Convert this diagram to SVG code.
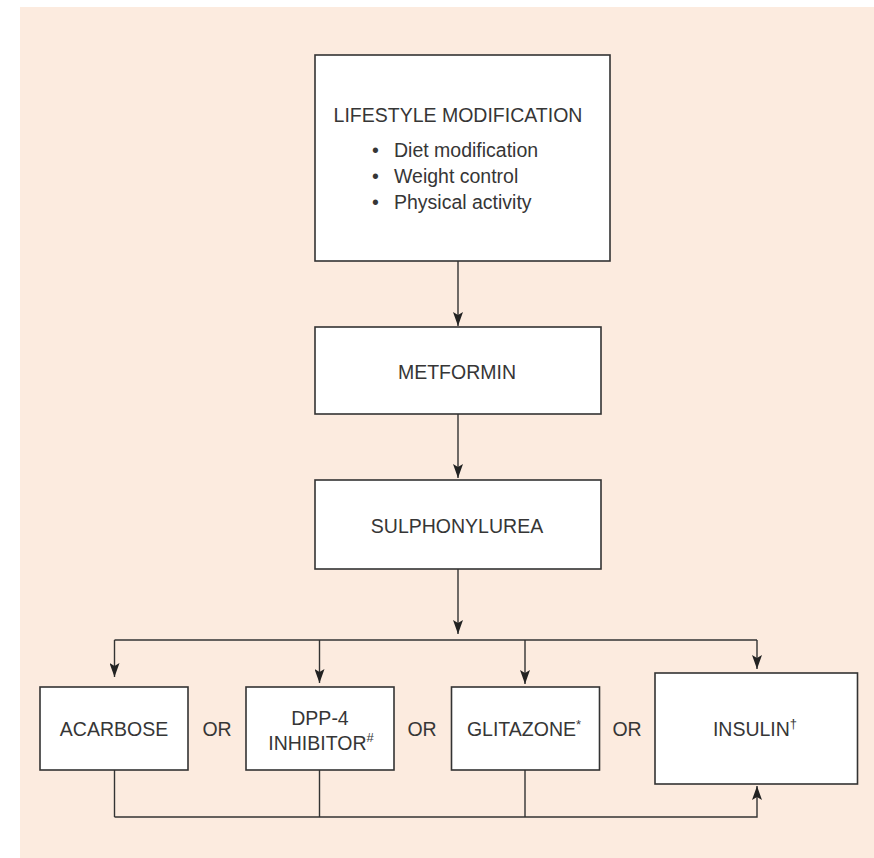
<svg xmlns="http://www.w3.org/2000/svg" width="874" height="858" viewBox="0 0 874 858">
<defs>
<style>
.box{fill:#fff;stroke:#333;stroke-width:1.6}
.t{font-family:"Liberation Sans",Arial,sans-serif;font-size:19.5px;fill:#363636;text-anchor:middle}
.tl{font-family:"Liberation Sans",Arial,sans-serif;font-size:19.5px;fill:#363636}
.c{fill:none;stroke:#333;stroke-width:1.4}
.sup{font-size:13px}
</style>
<marker id="ah" viewBox="0 0 14 10" refX="14" refY="5" markerWidth="14" markerHeight="10" markerUnits="userSpaceOnUse" orient="auto">
<path d="M0,0 L14,5 L0,10 L3,5 z" fill="#222"/>
</marker>
</defs>
<rect x="20" y="7" width="854" height="851" fill="#fcebdf"/>

<g id="connectors">
<line class="c" x1="458" y1="261" x2="458" y2="326" marker-end="url(#ah)"/>
<line class="c" x1="458" y1="414" x2="458" y2="478" marker-end="url(#ah)"/>
<line class="c" x1="458" y1="569" x2="458" y2="634" marker-end="url(#ah)"/>
<line class="c" x1="114.5" y1="640" x2="757" y2="640"/>
<line class="c" x1="114.5" y1="640" x2="114.5" y2="677" marker-end="url(#ah)"/>
<line class="c" x1="319.5" y1="640" x2="319.5" y2="683" marker-end="url(#ah)"/>
<line class="c" x1="525" y1="640" x2="525" y2="684" marker-end="url(#ah)"/>
<line class="c" x1="757" y1="640" x2="757" y2="669" marker-end="url(#ah)"/>
<line class="c" x1="114.5" y1="770" x2="114.5" y2="817"/>
<line class="c" x1="319.5" y1="770" x2="319.5" y2="817"/>
<line class="c" x1="525" y1="770" x2="525" y2="817"/>
<polyline class="c" points="114.5,817 757,817 757,786" marker-end="url(#ah)"/>
</g>

<g id="lifestyle">
<rect class="box" x="315" y="55" width="295" height="206"/>
<text class="t" x="458" y="122">LIFESTYLE MODIFICATION</text>
<text class="tl" y="157"><tspan x="372">•</tspan><tspan x="394">Diet modification</tspan></text>
<text class="tl" y="183"><tspan x="372">•</tspan><tspan x="394">Weight control</tspan></text>
<text class="tl" y="209"><tspan x="372">•</tspan><tspan x="394">Physical activity</tspan></text>
</g>

<g id="metformin">
<rect class="box" x="315" y="327" width="286" height="87"/>
<text class="t" x="457" y="379">METFORMIN</text>
</g>

<g id="sulphonylurea">
<rect class="box" x="315" y="480" width="286" height="89"/>
<text class="t" x="457" y="533">SULPHONYLUREA</text>
</g>

<g id="acarbose">
<rect class="box" x="40" y="687" width="148" height="83"/>
<text class="t" x="114" y="736">ACARBOSE</text>
</g>

<g id="dpp4">
<rect class="box" x="246" y="687" width="148" height="83"/>
<text class="t" x="320" y="725">DPP-4</text>
<text class="t" x="321" y="750">INHIBITOR<tspan class="sup" dy="-8">#</tspan></text>
</g>

<g id="glitazone">
<rect class="box" x="451.5" y="687" width="148" height="83"/>
<text class="t" x="524" y="736">GLITAZONE<tspan class="sup" dy="-7">*</tspan></text>
</g>

<g id="insulin">
<rect class="box" x="655" y="673" width="202.5" height="111"/>
<text class="t" x="755" y="736">INSULIN<tspan class="sup" dy="-8">†</tspan></text>
</g>

<g id="or-labels">
<text class="t" x="217" y="736">OR</text>
<text class="t" x="422" y="736">OR</text>
<text class="t" x="627" y="736">OR</text>
</g>
</svg>
